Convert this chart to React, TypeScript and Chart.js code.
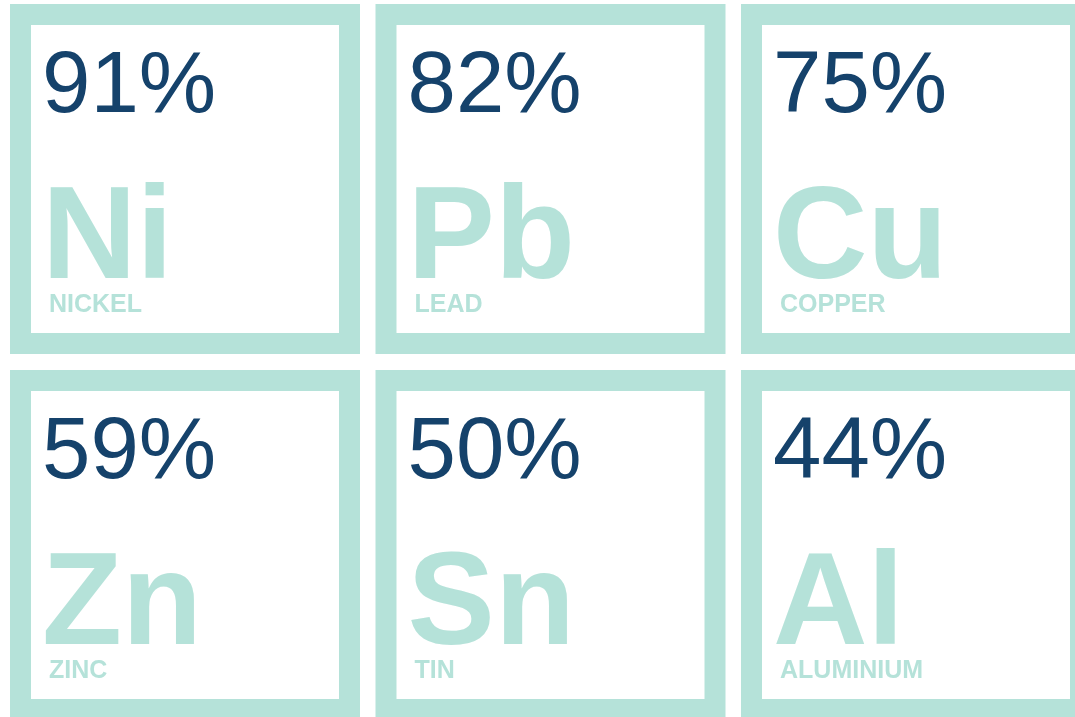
import React, { useEffect, useRef } from "react";
import { Chart, registerables } from "chart.js";

Chart.register(...registerables);

const percentages = [91, 82, 75, 59, 50, 44];
const symbols = ["Ni", "Pb", "Cu", "Zn", "Sn", "Al"];
const names = ["NICKEL", "LEAD", "COPPER", "ZINC", "TIN", "ALUMINIUM"];
const COLUMNS = 3;

const TEAL = "#b5e2d9";
const NAVY = "#15426b";
const FONT = "'Liberation Sans', Arial, Helvetica, sans-serif";

const tilePlugin = {
  id: "tiles",
  afterDatasetsDraw(chart: any) {
    const ctx = chart.ctx as CanvasRenderingContext2D;
    const xs = chart.scales.x;
    const ys = chart.scales.y;
    const meta = chart.getDatasetMeta(0);
    const raw = chart.data.datasets[0].data as any[];
    const gapX = 15.5;
    const gapY = 16;
    const border = 21;
    ctx.save();
    meta.data.forEach((_el: any, i: number) => {
      const d = raw[i];
      const x0 = xs.getPixelForValue(d.x);
      const x1 = xs.getPixelForValue(d.x + 1) - gapX;
      const y0 = ys.getPixelForValue(d.y);
      const y1 = ys.getPixelForValue(d.y + 1) - gapY;
      const w = x1 - x0;
      const h = y1 - y0;
      ctx.fillStyle = TEAL;
      ctx.fillRect(x0, y0, w, h);
      ctx.fillStyle = "#ffffff";
      ctx.fillRect(x0 + border, y0 + border, w - 2 * border, h - 2 * border);

      ctx.textAlign = "left";
      ctx.textBaseline = "alphabetic";
      ctx.fillStyle = NAVY;
      ctx.font = `87px ${FONT}`;
      ctx.fillText(`${d.pct}%`, x0 + 32, y0 + 108);

      ctx.fillStyle = TEAL;
      ctx.font = `bold 131px ${FONT}`;
      ctx.fillText(d.sym, x0 + 32, y0 + 274);

      ctx.font = `bold 25px ${FONT}`;
      ctx.fillText(d.name, x0 + 39, y0 + 308);
    });
    ctx.restore();
  },
};

export default function App() {
  const ref = useRef<HTMLCanvasElement | null>(null);
  useEffect(() => {
    if (!ref.current) return;
    const data = percentages.map((p, i) => ({
      x: i % COLUMNS,
      y: Math.floor(i / COLUMNS),
      pct: p,
      sym: symbols[i],
      name: names[i],
    }));
    const chart = new Chart(ref.current, {
      type: "scatter",
      data: {
        datasets: [
          {
            label: "Recycling rate",
            data,
            pointRadius: 0,
            pointHoverRadius: 0,
          },
        ],
      },
      options: {
        animation: false,
        responsive: true,
        maintainAspectRatio: false,
        events: [],
        layout: { padding: { left: 10, top: 4, right: 3.5, bottom: 4 } },
        plugins: {
          legend: { display: false },
          tooltip: { enabled: false },
          title: { display: false },
        },
        scales: {
          x: { type: "linear", min: 0, max: 3, display: false },
          y: { type: "linear", min: 0, max: 2, reverse: true, display: false },
        },
      },
      plugins: [tilePlugin],
    });
    return () => chart.destroy();
  }, []);
  return (
    <div
      style={{
        position: "fixed",
        left: 0,
        top: 0,
        width: 1075,
        height: 717,
        overflow: "hidden",
        background: "#ffffff",
      }}
    >
      <div style={{ position: "relative", width: 1110, height: 740 }}>
        <canvas ref={ref} />
      </div>
    </div>
  );
}
